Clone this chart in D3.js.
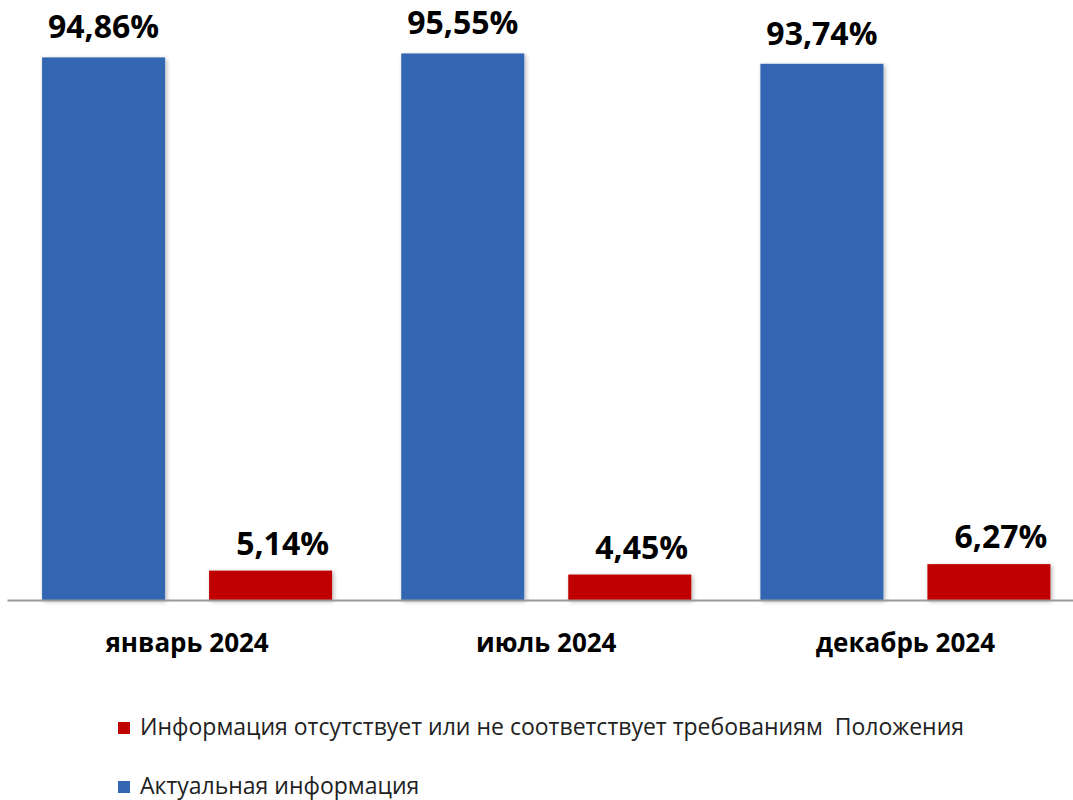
<!DOCTYPE html>
<html>
<head>
<meta charset="utf-8">
<script src="https://cdn.jsdelivr.net/npm/d3@7"></script>
<style>
  body { margin: 0; background: #fff; }
  svg { display: block; font-family: "Open Sans", "Noto Sans", sans-serif; }
</style>
</head>
<body>
<div id="chart-area"></div>
<script>
// data
const categories = ["январь 2024", "июль 2024", "декабрь 2024"]
const seriesNames = ["Актуальная информация", "Информация отсутствует или не соответствует требованиям  Положения"]
const actual = [94.86, 95.55, 93.74]
const missing = [5.14, 4.45, 6.27]
const colors = ["#3366B3", "#C00000"]

const W = 1073, H = 800
const MARGIN = { LEFT: 7.5, RIGHT: -12, TOP: 28, BOTTOM: 200 }
const WIDTH = W - MARGIN.LEFT - MARGIN.RIGHT
const HEIGHT = H - MARGIN.TOP - MARGIN.BOTTOM

const fmt = v => d3.format(".2f")(v).replace(".", ",") + "%"

const svg = d3.select("#chart-area").append("svg")
  .attr("width", W)
  .attr("height", H)

// soft shadow like the office chart
const defs = svg.append("defs")
const f = defs.append("filter").attr("id", "shadow")
  .attr("x", "-10%").attr("y", "-10%").attr("width", "130%").attr("height", "130%")
f.append("feDropShadow")
  .attr("dx", 1.5).attr("dy", 1.5).attr("stdDeviation", 2)
  .attr("flood-color", "#000").attr("flood-opacity", 0.3)

const g = svg.append("g")
  .attr("transform", `translate(${MARGIN.LEFT}, ${MARGIN.TOP})`)

// scales
const x0 = d3.scaleBand().domain(categories).range([0, WIDTH]).paddingInner(0).paddingOuter(0)
const x1 = d3.scaleBand().domain([0, 1]).range([0, x0.bandwidth()]).paddingInner(0.2635).paddingOuter(0.207)
const y = d3.scaleLinear().domain([0, 100]).range([HEIGHT, 0])

const rows = categories.map((c, i) => ({ cat: c, vals: [actual[i], missing[i]] }))

const groups = g.selectAll(".grp").data(rows).enter().append("g")
  .attr("class", "grp")
  .attr("transform", d => `translate(${x0(d.cat)}, 0)`)

groups.selectAll("rect")
  .data(d => d.vals.map((v, k) => ({ v, k })))
  .enter().append("rect")
  .attr("x", d => x1(d.k))
  .attr("y", d => y(d.v))
  .attr("width", x1.bandwidth())
  .attr("height", d => HEIGHT - y(d.v))
  .attr("fill", d => colors[d.k])
  .attr("filter", "url(#shadow)")

// value labels
groups.selectAll("text.val")
  .data(d => d.vals.map((v, k) => ({ v, k })))
  .enter().append("text")
  .attr("class", "val")
  .attr("x", d => x1(d.k) + x1.bandwidth() / 2 + (d.k === 1 ? 12 : 0))
  .attr("y", d => y(d.v) - (d.k === 0 ? 19 : 16))
  .attr("text-anchor", "middle")
  .attr("font-size", 32)
  .attr("font-weight", "bold")
  .attr("fill", "#000")
  .text(d => fmt(d.v))

// x axis line
g.append("line")
  .attr("x1", 0).attr("x2", W)
  .attr("y1", HEIGHT + 0.5).attr("y2", HEIGHT + 0.5)
  .attr("stroke", "#999").attr("stroke-width", 2)

// category labels
g.selectAll("text.cat").data(categories).enter().append("text")
  .attr("class", "cat")
  .attr("x", d => x0(d) + x0.bandwidth() / 2)
  .attr("y", HEIGHT + 52)
  .attr("text-anchor", "middle")
  .attr("font-size", 26)
  .attr("font-weight", "bold")
  .attr("fill", "#000")
  .text(d => d)

// legend (red first, then blue)
const legendOrder = [1, 0]
const legend = svg.append("g").attr("transform", "translate(118, 0)")
legendOrder.forEach((k, i) => {
  const ly = 735 + i * 59
  legend.append("rect")
    .attr("x", 0).attr("y", ly - 13)
    .attr("width", 12).attr("height", 12)
    .attr("fill", colors[k])
  legend.append("text")
    .attr("x", 22).attr("y", ly)
    .attr("font-size", 23)
    .attr("fill", "#222")
    .style("white-space", "pre")
    .text(seriesNames[k])
})
</script>
</body>
</html>
